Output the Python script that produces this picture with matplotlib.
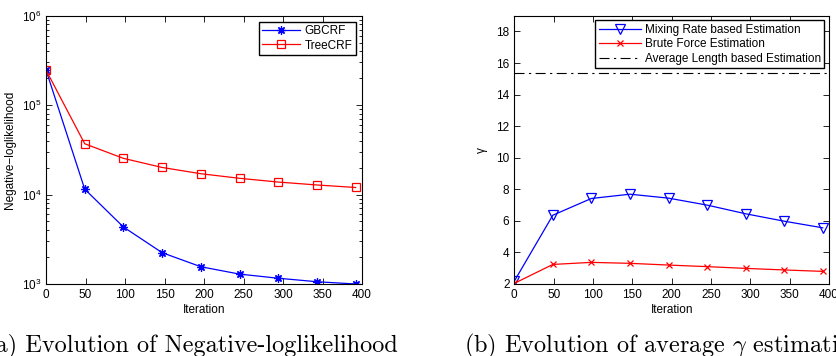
import numpy as np
import matplotlib
matplotlib.use("Agg")
import matplotlib.pyplot as plt
from matplotlib.ticker import LogLocator, NullFormatter

plt.rcParams['font.family'] = ['Liberation Sans', 'DejaVu Sans']
plt.rcParams['font.size'] = 8.5
plt.rcParams['xtick.direction'] = 'in'
plt.rcParams['ytick.direction'] = 'in'

# iterations
iters = [0, 49, 98, 147, 196, 245, 294, 343, 392]

# (a) negative log-likelihood
gbcrf = [2.47e5, 1.15e4, 4.34e3, 2.24e3, 1.56e3, 1.29e3, 1.16e3, 1.06e3, 1.0e3]
treecrf = [2.47e5, 3.7e4, 2.54e4, 2.01e4, 1.71e4, 1.52e4, 1.38e4, 1.28e4, 1.2e4]

# (b) gamma estimation
mixing = [2.18, 6.36, 7.42, 7.69, 7.44, 7.0, 6.45, 5.98, 5.56]
brute = [2.04, 3.24, 3.37, 3.31, 3.2, 3.1, 2.99, 2.89, 2.8]
avg_len = 15.39

fig = plt.figure(figsize=(8.36, 3.56), dpi=100)

# ---- left panel
ax1 = fig.add_axes([46/836, 72/356, 316/836, 268.3/356])
ax1.plot(iters, gbcrf, color='blue', lw=0.9, marker=(8, 2, 0), ms=6, mew=0.9, label='GBCRF')
ax1.plot(iters, treecrf, color='red', lw=0.9, marker='s', ms=6, mfc='none', mew=0.9, label='TreeCRF')
ax1.set_yscale('log')
ax1.set_xlim(0, 400)
ax1.set_ylim(1e3, 1e6)
ax1.set_xticks(range(0, 401, 50))
ax1.yaxis.set_minor_locator(LogLocator(base=10, subs=np.arange(2, 10)))
ax1.yaxis.set_minor_formatter(NullFormatter())
ax1.tick_params(which='both', top=True, right=True, length=4, width=0.6)
ax1.tick_params(which='minor', length=2)
ax1.set_xlabel('Iteration', labelpad=2)
ax1.set_ylabel('Negative\u2212loglikelihood', labelpad=4)
leg1 = ax1.legend(loc='upper right', fancybox=False, edgecolor='black', framealpha=1,
                  handlelength=3.2, borderaxespad=0.5, borderpad=0.3, labelspacing=0.2,
                  handletextpad=0.4, fontsize=8.5)
leg1.get_frame().set_linewidth(1.0)

# ---- right panel
ax2 = fig.add_axes([514.3/836, 72/356, 314.7/836, 268.3/356])
ax2.plot(iters, mixing, color='blue', lw=0.9, marker='v', ms=6.5, mfc='none', mew=0.9,
         label='Mixing Rate based Estimation')
ax2.plot(iters, brute, color='red', lw=0.9, marker='x', ms=4, mew=0.9,
         label='Brute Force Estimation')
ax2.axhline(avg_len, color='black', lw=0.8, ls=(0, (9, 4, 2, 4)),
            label='Average Length based Estimation')
ax2.set_xlim(0, 400)
ax2.set_ylim(2, 19)
ax2.set_xticks(range(0, 401, 50))
ax2.set_yticks(range(2, 19, 2))
ax2.tick_params(which='both', top=True, right=True, length=4, width=0.6)
ax2.set_xlabel('Iteration', labelpad=2)
ax2.set_ylabel('\u03b3', labelpad=6)
leg2 = ax2.legend(loc='upper right', fancybox=False, edgecolor='black', framealpha=1,
                  handlelength=3.6, borderaxespad=0.4, borderpad=0.3, labelspacing=0.2,
                  handletextpad=0.3, fontsize=8.5)
leg2.get_frame().set_linewidth(1.0)

for ax in (ax1, ax2):
    for s in ax.spines.values():
        s.set_linewidth(0.8)

# captions
fig.text(398/836, 4/356, '(a) Evolution of Negative-loglikelihood', ha='right', va='baseline',
         family=['cmr10', 'DejaVu Serif'], fontsize=17.5)
fig.text(464/836, 4/356, r'(b) Evolution of average $\gamma$ estimation', ha='left', va='baseline',
         family=['cmr10', 'DejaVu Serif'], fontsize=17.5, math_fontfamily='cm')

fig.savefig('out.png', dpi=100)
